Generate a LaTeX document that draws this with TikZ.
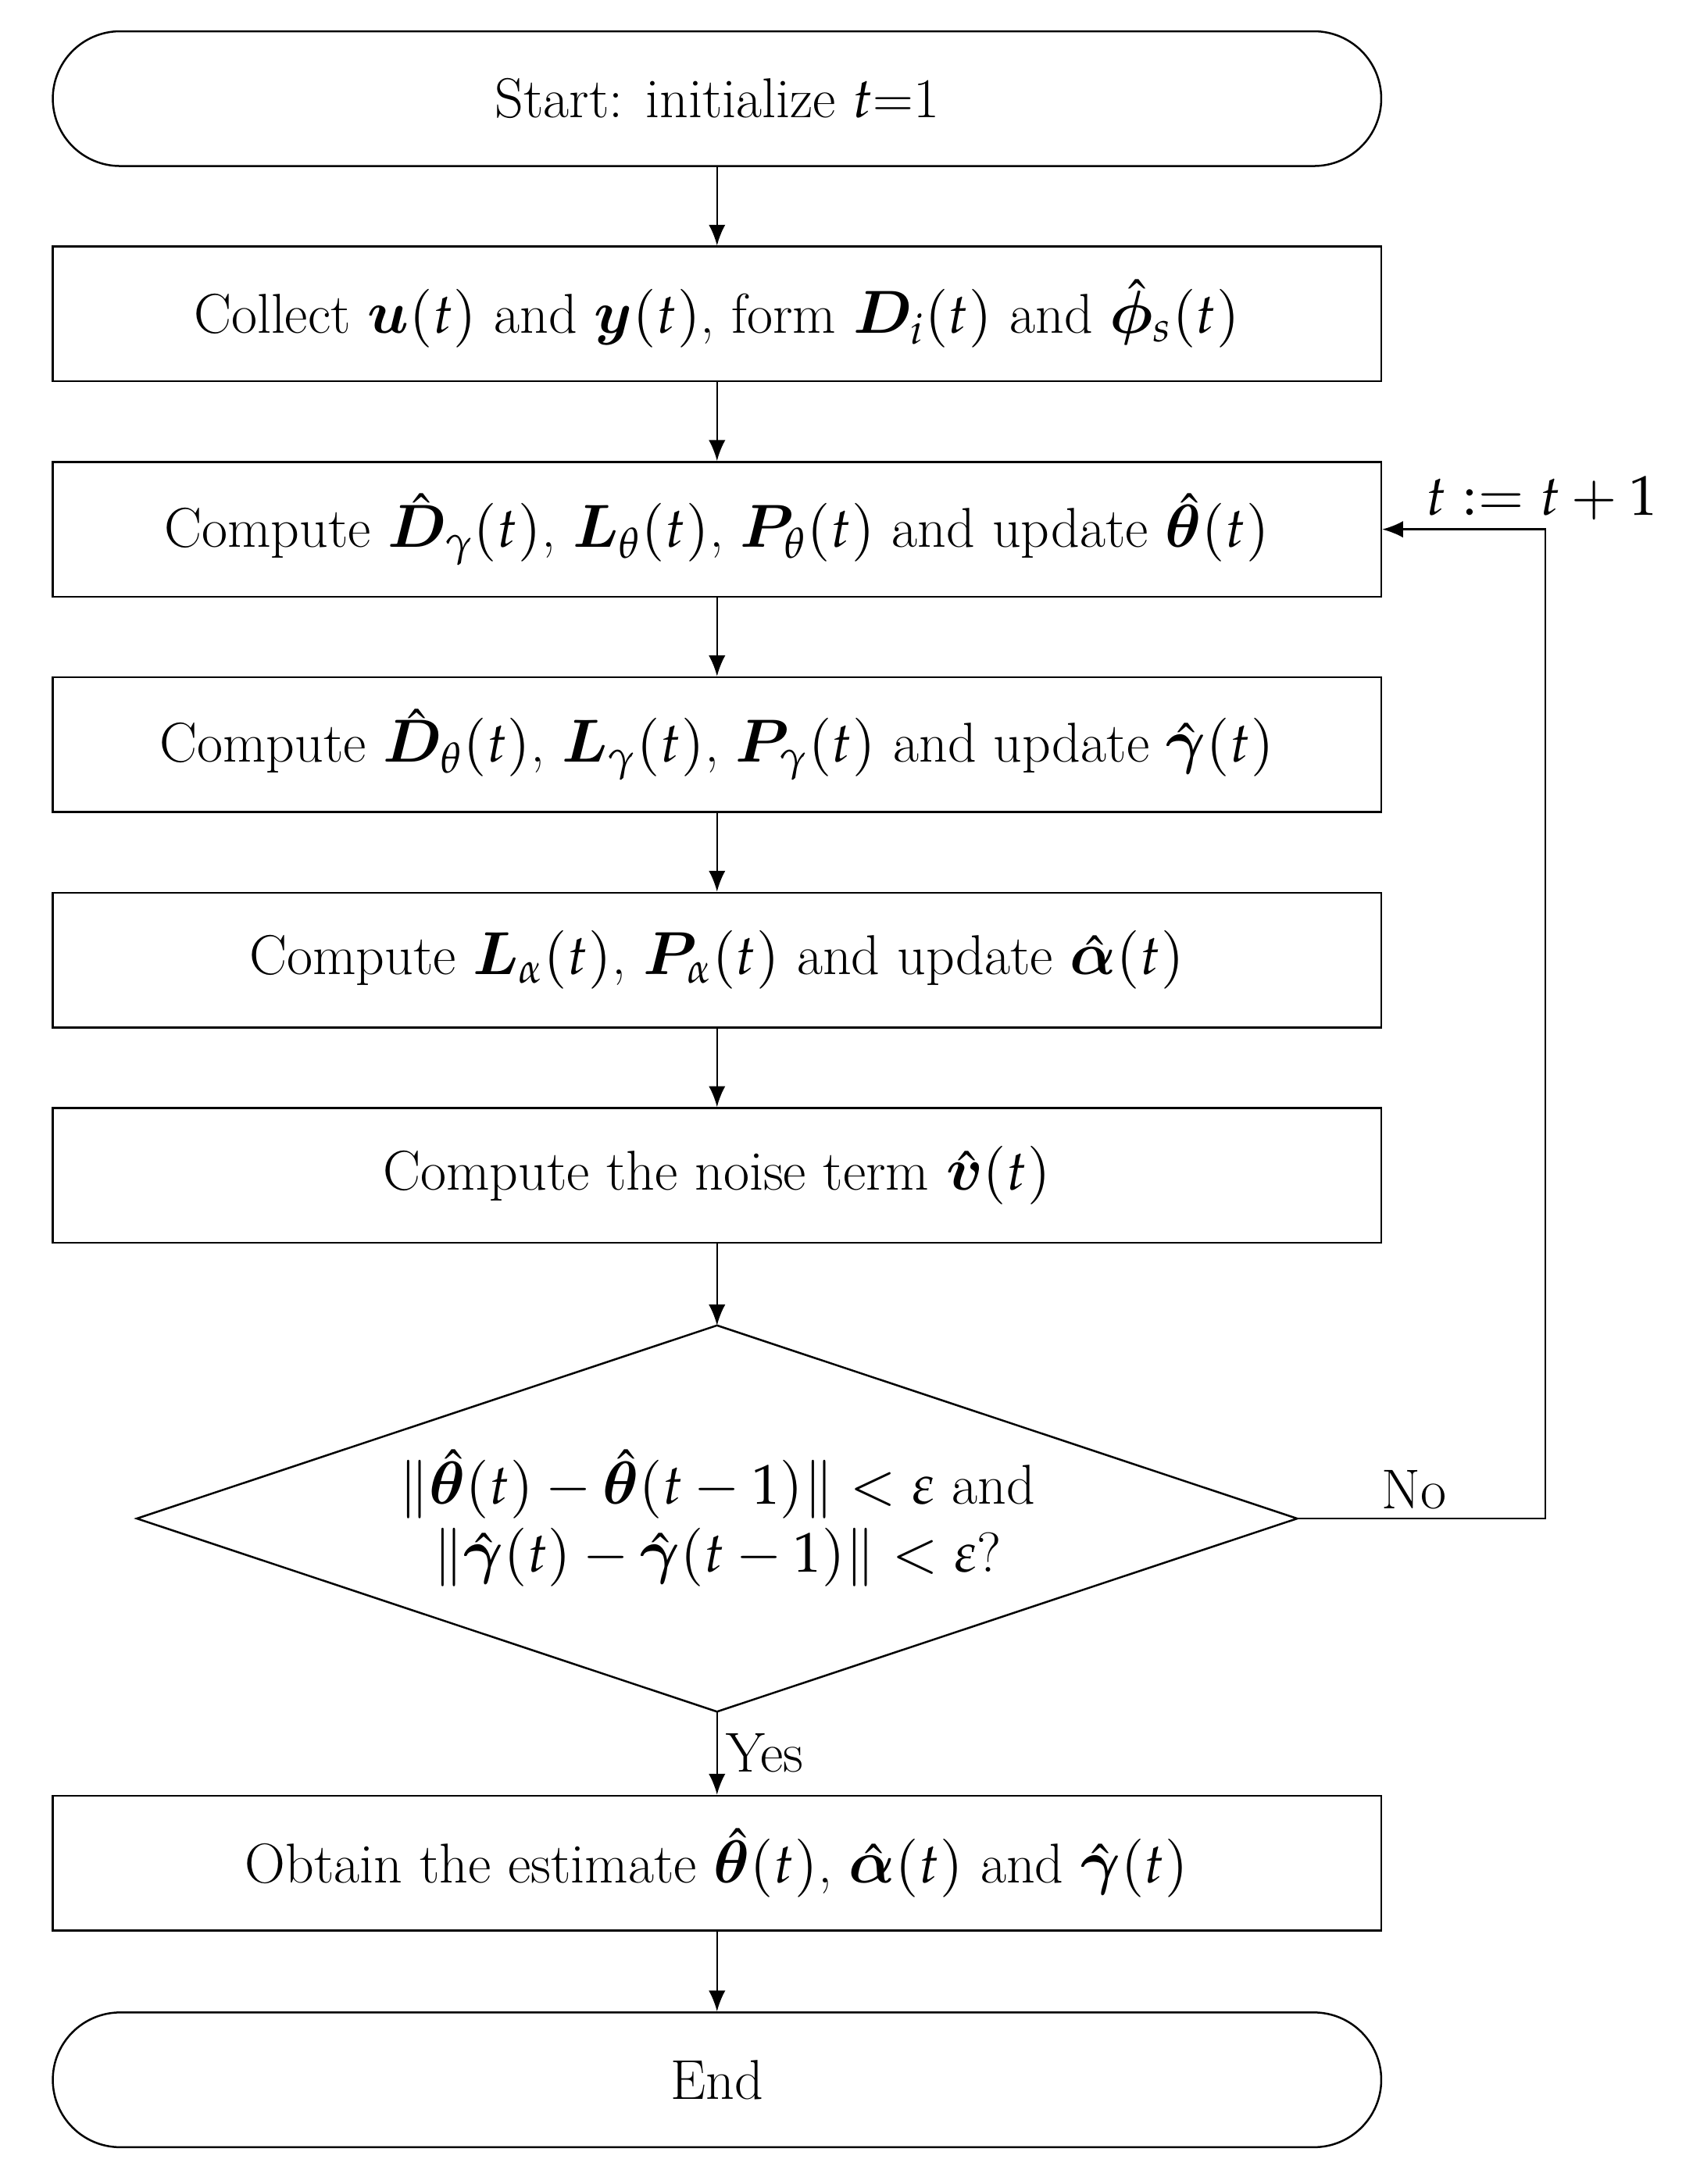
\documentclass[tikz,border=0pt]{standalone}
\usepackage{amsmath,bm}
\usepackage{mathpazo}
\usetikzlibrary{arrows.meta}

\newcommand{\BoxW}{19.12cm}
\newcommand{\BoxH}{1.94cm}
\newcommand{\Cx}{10.32}
\newcommand{\DiaW}{8.35}
\newcommand{\DiaH}{2.78}

\tikzset{
    proc/.style={draw, thick, minimum width=\BoxW, minimum height=\BoxH, inner sep=0pt,
        font=\fontsize{23}{27}\selectfont},
    term/.style={proc, rounded corners=0.97cm},
    decide/.style={inner sep=0pt, align=center, font=\fontsize{23}{28}\selectfont},
    flow/.style={-{Latex[length=3mm,width=2.4mm]}, thick},
    lbl/.style={font=\fontsize{23}{27}\selectfont}
}

\begin{document}
\begin{tikzpicture}
    \useasboundingbox (0,0) rectangle (24.36,-31.44);

    \node[term] (Start) at (\Cx,-1.42) {Start: initialize $t$=1};
    \node[proc] (Collect) at (\Cx,-4.52) {Collect $\bm{u}(t)$ and $\bm{y}(t)$, form $\bm{D}_i(t)$ and $\hat{\bm{\phi}}_s(t)$};
    \node[proc] (CompTheta) at (\Cx,-7.62) {Compute $\hat{\bm{D}}_\gamma(t)$, $\bm{L}_\theta(t)$, $\bm{P}_\theta(t)$ and update $\hat{\bm{\theta}}(t)$};
    \node[proc] (CompGamma) at (\Cx,-10.72) {Compute $\hat{\bm{D}}_\theta(t)$, $\bm{L}_\gamma(t)$, $\bm{P}_\gamma(t)$ and update $\hat{\bm{\gamma}}(t)$};
    \node[proc] (CompAlpha) at (\Cx,-13.82) {Compute $\bm{L}_\alpha(t)$, $\bm{P}_\alpha(t)$ and update $\hat{\bm{\alpha}}(t)$};
    \node[proc] (Noise) at (\Cx,-16.92) {Compute the noise term $\hat{\bm{v}}(t)$};

    % decision diamond
    \node[decide] (Check) at (\Cx,-21.86) {$\|\hat{\bm{\theta}}(t)-\hat{\bm{\theta}}(t-1)\|<\varepsilon$ and\\
        $\|\hat{\bm{\gamma}}(t)-\hat{\bm{\gamma}}(t-1)\|<\varepsilon$?};
    \coordinate (CheckN) at (\Cx,-21.86+\DiaH);
    \coordinate (CheckS) at (\Cx,-21.86-\DiaH);
    \coordinate (CheckE) at (\Cx+\DiaW,-21.86);
    \coordinate (CheckW) at (\Cx-\DiaW,-21.86);
    \draw[thick] (CheckN) -- (CheckE) -- (CheckS) -- (CheckW) -- cycle;

    \node[proc] (Obtain) at (\Cx,-26.82) {Obtain the estimate $\hat{\bm{\theta}}(t)$, $\hat{\bm{\alpha}}(t)$ and $\hat{\bm{\gamma}}(t)$};
    \node[term] (End) at (\Cx,-29.94) {End};

    \draw[flow] (Start) -- (Collect);
    \draw[flow] (Collect) -- (CompTheta);
    \draw[flow] (CompTheta) -- (CompGamma);
    \draw[flow] (CompGamma) -- (CompAlpha);
    \draw[flow] (CompAlpha) -- (Noise);
    \draw[flow] (Noise) -- (CheckN);
    \draw[flow] (CheckS) -- node[lbl, right, pos=0.5] {Yes} (Obtain);
    \draw[flow] (Obtain) -- (End);

    % loop back
    \coordinate (Turn) at (22.24,-21.86);
    \draw[flow] (CheckE) -- node[lbl, above, pos=0.47] {No} (Turn) |- (CompTheta.east)
        node[lbl, pos=0.5, above, xshift=-0.05cm, anchor=south] {$t:=t+1$};
\end{tikzpicture}
\end{document}
